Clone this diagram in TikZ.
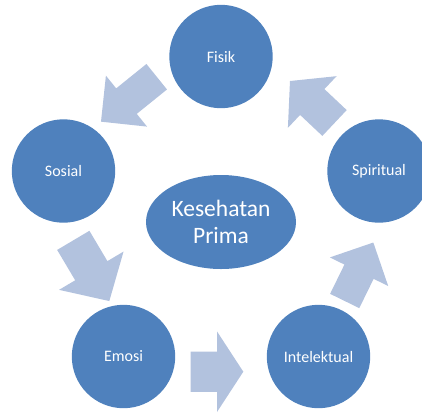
\documentclass[tikz,border=0pt]{standalone}
\usepackage{fontspec}
\setmainfont{Carlito}
\usetikzlibrary{shapes.geometric}
\definecolor{nodeblue}{RGB}{79,129,189}
\definecolor{arrowblue}{RGB}{178,194,222}
\tikzset{
  circnode/.style={circle, fill=nodeblue, draw=none, minimum size=103.4pt, inner sep=0pt,
    text=white, font=\fontsize{16}{18}\selectfont},
  centernode/.style={ellipse, fill=nodeblue, draw=none, minimum width=150pt, minimum height=94pt,
    inner sep=0pt, text=white, align=center, font=\fontsize{23.5}{27}\selectfont},
  arrowfill/.style={fill=arrowblue, draw=none}
}
% #1 cx, #2 cy, #3 angle (ccw), #4 length, #5 head width
\newcommand\blkarrow[5]{%
  \begin{scope}[shift={(#1,#2)},rotate=#3]
    \pgfmathsetmacro\ahw{#4/2}%
    \pgfmathsetmacro\ash{#5/4}%
    \pgfmathsetmacro\ahh{#5/2}%
    \pgfmathsetmacro\ahb{#4/2-min(#4,#5)/2}%
    \fill[arrowfill] (-\ahw,-\ash) -- (\ahb,-\ash) -- (\ahb,-\ahh) -- (\ahw,0)
      -- (\ahb,\ahh) -- (\ahb,\ash) -- (-\ahw,\ash) -- cycle;
  \end{scope}}
\begin{document}
\begin{tikzpicture}[x=1pt,y=-1pt]
\useasboundingbox (0,0) rectangle (422,413);
\clip (0,0) rectangle (422,413);
% block arrows
\blkarrow{128.85}{99.2}{218.9}{71.6}{65.5}
\blkarrow{91.3}{270.7}{300.7}{70.6}{75}
\blkarrow{217}{371.7}{0}{52.6}{80.6}
\blkarrow{359}{271.75}{63.9}{65.1}{65}
\blkarrow{312.25}{102}{136.7}{61.2}{71}
% nodes
\node[circnode] (fisik) at (221,56.5) {Fisik};
\node[circnode] (sosial) at (63.5,171) {Sosial};
\node[circnode] (spiritual) at (379,171) {Spiritual};
\node[circnode] (emosi) at (123.5,356.5) {Emosi};
\node[circnode] (intelektual) at (318.5,356.5) {Intelektual};
\node[centernode] (prima) at (221,222) {Kesehatan\\Prima};
\end{tikzpicture}
\end{document}
